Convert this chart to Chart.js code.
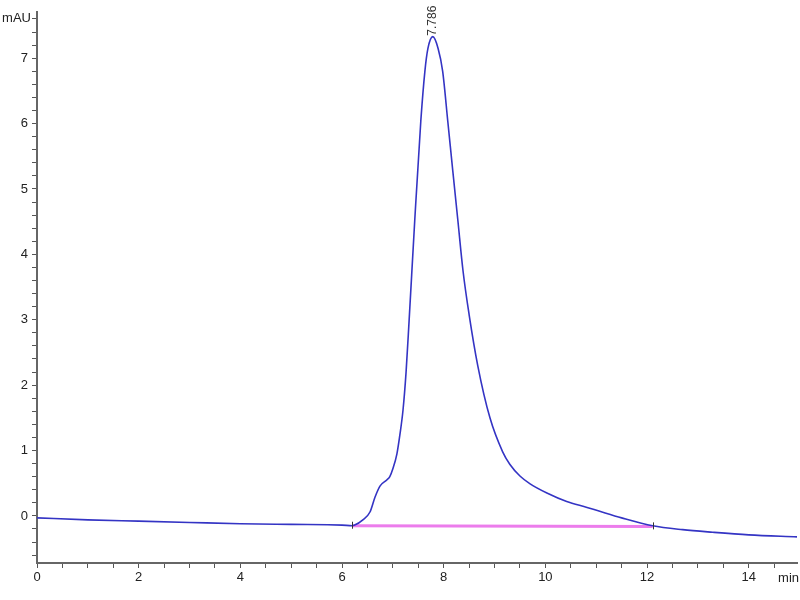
<!DOCTYPE html>
<html>
<head>
<meta charset="utf-8">
<script src="https://cdn.jsdelivr.net/npm/chart.js@4/dist/chart.umd.min.js"></script>
<style>
  body { margin: 0; background: #fff; }
  canvas { display: block; }
</style>
</head>
<body>
<canvas id="chart" width="800" height="600"></canvas>
<script>
// retention time (min) and signal (mAU)
var times = [0, 1, 2, 3, 4, 5, 6, 6.2, 6.25, 6.41, 6.55, 6.65, 6.75, 6.88, 6.94, 7.0, 7.08,
    7.14, 7.2, 7.26, 7.32, 7.43, 7.55, 7.63, 7.69, 7.786, 7.89, 7.98, 8.08, 8.18, 8.28,
    8.38, 8.5, 8.67, 8.91, 9.16, 9.3, 9.5, 9.7, 10.03, 10.42, 10.82, 11.07, 11.5,
    12.11, 12.7, 13.29, 14.0, 14.95];
var signal = [-0.03, -0.06, -0.08, -0.10, -0.12, -0.13, -0.14, -0.15, -0.14, -0.06, 0.06,
    0.29, 0.46, 0.55, 0.6, 0.72, 0.95, 1.25, 1.62, 2.2, 2.99, 4.51, 6.04, 6.8, 7.15,
    7.33, 7.15, 6.8, 6.04, 5.27, 4.51, 3.75, 3.08, 2.3, 1.5, 0.98, 0.79, 0.61, 0.49,
    0.35, 0.22, 0.13, 0.07, -0.03, -0.15, -0.21, -0.25, -0.29, -0.32];

// integration baseline
var baseTimes = [6.2, 12.11];
var baseValues = [-0.15, -0.16];

var peakTime = 7.786;
var peakValue = 7.33;
var peakLabel = "7.786";

var xTickLabels = [0, 2, 4, 6, 8, 10, 12, 14];
var yTickLabels = [0, 1, 2, 3, 4, 5, 6, 7];
var xMinorStep = 0.5;
var yMinorStep = 0.2;

var tracePoints = [];
for (var i = 0; i < times.length; i++) tracePoints.push({x: times[i], y: signal[i]});
var basePoints = [];
for (var j = 0; j < baseTimes.length; j++) basePoints.push({x: baseTimes[j], y: baseValues[j]});

function minorTicks(min, max, step) {
    var out = [];
    var start = Math.ceil(min / step - 1e-9);
    for (var k = start; k * step <= max + 1e-9; k++) out.push({value: Math.round(k * step * 100) / 100});
    return out;
}

function isMajor(v, list) {
    for (var i = 0; i < list.length; i++) if (Math.abs(list[i] - v) < 1e-6) return true;
    return false;
}

var tickFont = {family: "'Liberation Sans Narrow', 'Liberation Sans', Arial, sans-serif", size: 13};

var extras = {
    id: 'extras',
    afterDatasetsDraw: function(chart) {
        var ctx = chart.ctx;
        var xs = chart.scales.x, ys = chart.scales.y;
        ctx.save();
        // small marks at the baseline ends
        ctx.strokeStyle = '#333';
        ctx.lineWidth = 1;
        for (var i = 0; i < baseTimes.length; i++) {
            var px = Math.round(xs.getPixelForValue(baseTimes[i])) + 0.5;
            var py = ys.getPixelForValue(baseValues[i]);
            ctx.beginPath();
            ctx.moveTo(px, py - 4);
            ctx.lineTo(px, py + 3);
            ctx.stroke();
        }
        // peak retention time label
        ctx.fillStyle = '#333';
        ctx.font = "12px 'Liberation Sans Narrow', 'Liberation Sans', Arial, sans-serif";
        ctx.translate(xs.getPixelForValue(peakTime), ys.getPixelForValue(peakValue) - 1);
        ctx.rotate(-Math.PI / 2);
        ctx.textAlign = 'left';
        ctx.textBaseline = 'middle';
        ctx.fillText(peakLabel, 0, 0);
        ctx.restore();

        // axis units
        ctx.save();
        ctx.fillStyle = '#222';
        ctx.font = "13px 'Liberation Sans Narrow', 'Liberation Sans', Arial, sans-serif";
        ctx.textAlign = 'right';
        ctx.textBaseline = 'middle';
        ctx.fillText('mAU', 31, 18);
        ctx.textBaseline = 'top';
        ctx.fillText('min', 799, 572);
        ctx.restore();
    }
};

new Chart(document.getElementById('chart'), {
    type: 'line',
    data: {
        datasets: [{
            data: tracePoints,
            borderColor: '#3434c4',
            borderWidth: 1.6,
            pointRadius: 0,
            cubicInterpolationMode: 'monotone',
            order: 0
        }, {
            data: basePoints,
            borderColor: '#ec7cec',
            borderWidth: 3,
            pointRadius: 0,
            order: 1
        }]
    },
    options: {
        responsive: false,
        animation: false,
        layout: {padding: {top: 10, right: 3, left: 0, bottom: 0}},
        plugins: {legend: {display: false}, tooltip: {enabled: false}},
        scales: {
            x: {
                type: 'linear',
                min: 0,
                max: 14.95,
                afterFit: function(s) { s.height = 37; },
                afterBuildTicks: function(s) { s.ticks = minorTicks(0, 14.95, xMinorStep); },
                ticks: {
                    autoSkip: false,
                    maxRotation: 0,
                    padding: 2,
                    color: '#222',
                    font: tickFont,
                    callback: function(v) { return isMajor(v, xTickLabels) ? String(v) : ''; }
                },
                grid: {drawOnChartArea: false, drawTicks: true, tickLength: 5, tickColor: '#555', tickWidth: 1},
                border: {display: true, color: '#666', width: 2}
            },
            y: {
                type: 'linear',
                min: -0.72,
                max: 7.71,
                afterFit: function(s) { s.width = 37; },
                afterBuildTicks: function(s) { s.ticks = minorTicks(-0.72, 7.71, yMinorStep); },
                ticks: {
                    autoSkip: false,
                    padding: 4,
                    color: '#222',
                    font: tickFont,
                    callback: function(v) { return isMajor(v, yTickLabels) ? String(v) : ''; }
                },
                grid: {drawOnChartArea: false, drawTicks: true, tickLength: 5, tickColor: '#555', tickWidth: 1},
                border: {display: true, color: '#666', width: 2}
            }
        }
    },
    plugins: [extras]
});
</script>
</body>
</html>
